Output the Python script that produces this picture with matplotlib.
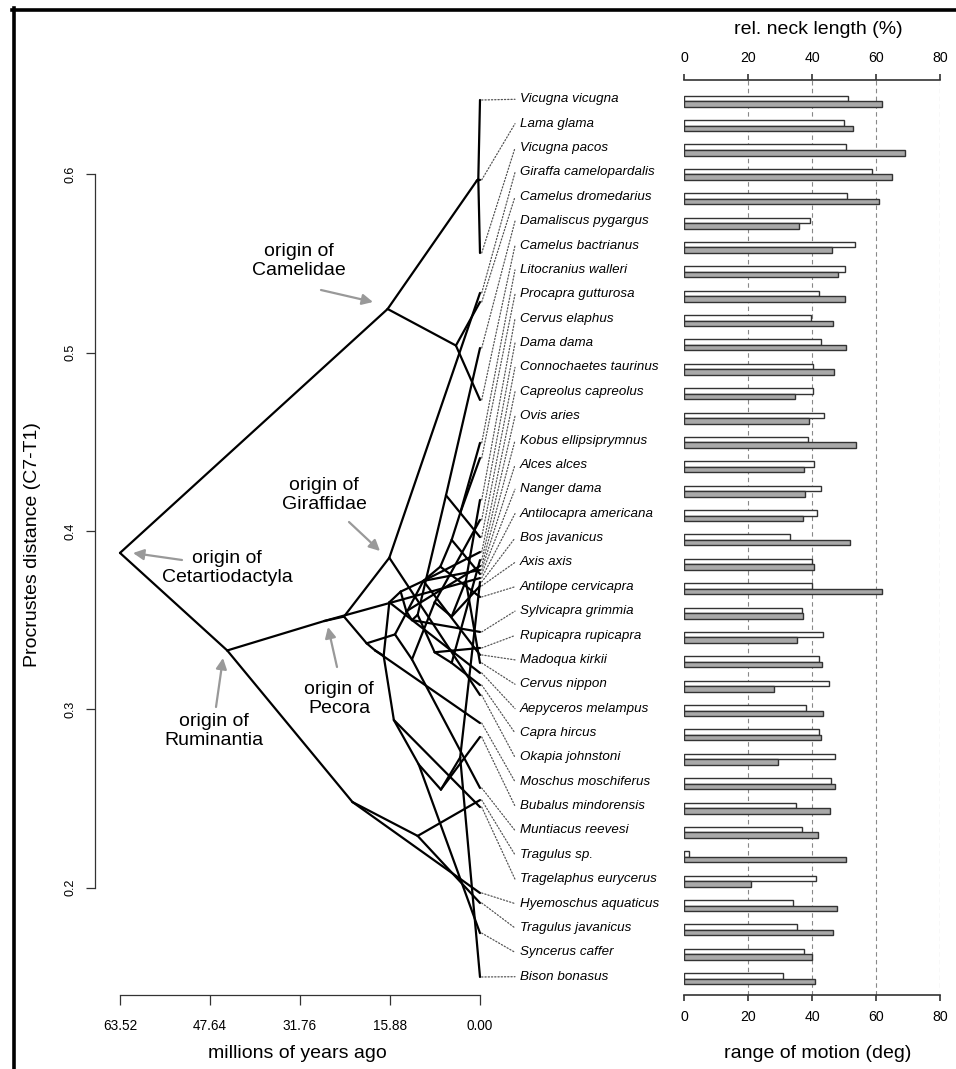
import matplotlib
matplotlib.use("Agg")
import matplotlib.pyplot as plt
import matplotlib.transforms as mtransforms
from matplotlib.patches import ConnectionPatch
from matplotlib.lines import Line2D
import numpy as np

plt.rcParams['font.family'] = ['Liberation Sans', 'DejaVu Sans']

# ---- species (top to bottom), tip values and bar values ----
species = ["Vicugna vicugna", "Lama glama", "Vicugna pacos", "Giraffa camelopardalis",
           "Camelus dromedarius", "Damaliscus pygargus", "Camelus bactrianus",
           "Litocranius walleri", "Procapra gutturosa", "Cervus elaphus", "Dama dama",
           "Connochaetes taurinus", "Capreolus capreolus", "Ovis aries",
           "Kobus ellipsiprymnus", "Alces alces", "Nanger dama", "Antilocapra americana",
           "Bos javanicus", "Axis axis", "Antilope cervicapra", "Sylvicapra grimmia",
           "Rupicapra rupicapra", "Madoqua kirkii", "Cervus nippon", "Aepyceros melampus",
           "Capra hircus", "Okapia johnstoni", "Moschus moschiferus", "Bubalus mindorensis",
           "Muntiacus reevesi", "Tragulus sp.", "Tragelaphus eurycerus",
           "Hyemoschus aquaticus", "Tragulus javanicus", "Syncerus caffer", "Bison bonasus"]

tip_value = [0.6417, 0.5969, 0.5559, 0.5335, 0.5284, 0.5026, 0.4735, 0.4494, 0.4409,
             0.4174, 0.4062, 0.3966, 0.3882, 0.3837, 0.3804, 0.3781, 0.3759, 0.3736,
             0.3714, 0.3692, 0.3630, 0.3434, 0.3344, 0.3305, 0.3260, 0.3204, 0.3136,
             0.3080, 0.2923, 0.2845, 0.2559, 0.2491, 0.2452, 0.1970, 0.1914, 0.1745,
             0.1499]

tip_parent = ["Vicugna", "Lama_Vicugna", "Vicugna", "Giraffidae", "Camelus", "Alcelaphini",
              "Camelus", "Gazella", "Gazella", "Cervus", "Cervinae2", "Alcelaphini",
              "Capreolinae", "Caprini", "Hippotragini", "Capreolinae", "Antilopini3",
              "Pecora", "Bos_Bison", "Cervinae3", "Antilopini2", "Cephalophini",
              "Caprinae", "Antilopini", "Cervus", "Antilopinae", "Caprini", "Giraffidae",
              "Bovidae_Moschus", "Bovini2", "Cervinae", "Tragulus", "Bovinae",
              "Tragulidae", "Tragulus", "Bovini", "Bos_Bison"]

neck_length = [51.4, 50.1, 50.5, 58.9, 50.8, 39.4, 53.5, 50.4, 42.2, 39.6, 42.8,
               40.2, 40.2, 43.8, 38.6, 40.7, 42.8, 41.7, 33.2, 40.1, 39.9, 37.0,
               43.4, 42.1, 45.2, 38.2, 42.3, 47.1, 45.8, 35.1, 37.0, 1.5, 41.1,
               34.0, 35.3, 37.4, 31.0]
range_of_motion = [61.8, 52.7, 69.0, 65.0, 60.8, 35.8, 46.3, 48.2, 50.3, 46.7, 50.6,
                   47.0, 34.7, 39.2, 53.6, 37.4, 37.7, 37.1, 51.9, 40.7, 61.9, 37.3,
                   35.3, 43.2, 28.0, 43.5, 42.7, 29.3, 47.1, 45.5, 41.8, 50.5, 20.8,
                   47.8, 46.5, 40.1, 40.9]

# ---- internal nodes of the phenogram: age (Ma), value, parent ----
node_name = ["root", "Camelidae", "Camelus", "Lama_Vicugna", "Vicugna", "Ruminantia",
             "Tragulidae", "Tragulus", "Pecora", "Pecora2", "Giraffidae", "Pecora3",
             "Cervidae", "Capreolinae", "Cervinae", "Cervinae2", "Cervinae3", "Cervus",
             "Bovidae_Moschus", "Bovidae", "Bovinae", "Bovini", "Bovini2", "Bos_Bison",
             "Antilopinae", "Antilopinae2", "Antilopini", "Antilopini2", "Antilopini3",
             "Gazella", "Hippotragini", "Cephalophini", "Caprinae_Alcel", "Alcelaphini",
             "Caprinae", "Caprini"]
node_age = [63.52, 16.3, 4.25, 0.55, 0.3, 44.6, 22.5, 11.0, 27.5, 24.0, 16.0, 20.0,
            15.0, 10.0, 12.0, 8.0, 5.0, 2.5, 18.5, 17.0, 15.2, 10.8, 6.9, 3.5,
            16.0, 14.0, 10.0, 7.0, 5.0, 3.5, 13.0, 12.0, 11.0, 6.0, 8.0, 5.0]
node_value = [0.3877, 0.5245, 0.504, 0.5965, 0.5972, 0.333, 0.248, 0.229, 0.3495,
              0.352, 0.385, 0.337, 0.342, 0.372, 0.328, 0.36, 0.352, 0.372, 0.333,
              0.33, 0.294, 0.269, 0.255, 0.273, 0.36, 0.366, 0.372, 0.38, 0.395,
              0.41, 0.355, 0.35, 0.353, 0.42, 0.332, 0.326]
node_parent = [None, "root", "Camelidae", "Camelidae", "Lama_Vicugna", "root",
               "Ruminantia", "Tragulidae", "Ruminantia", "Pecora", "Pecora2", "Pecora2",
               "Pecora3", "Cervidae", "Cervidae", "Cervinae", "Cervinae2", "Cervinae3",
               "Pecora3", "Bovidae_Moschus", "Bovidae", "Bovinae", "Bovini", "Bovini2",
               "Bovidae", "Antilopinae", "Antilopinae2", "Antilopini", "Antilopini2",
               "Antilopini3", "Antilopinae2", "Hippotragini", "Cephalophini",
               "Caprinae_Alcel", "Caprinae_Alcel", "Caprinae"]

time_ticks = [63.52, 47.64, 31.76, 15.88, 0.00]
dist_ticks = [0.2, 0.3, 0.4, 0.5, 0.6]
bar_ticks = [0, 20, 40, 60, 80]

W, H = 956, 1069
fig = plt.figure(figsize=(W / 100, H / 100), dpi=100)


def fx(x):
    return x / W


def fy(y):
    return 1 - y / H


# ---------------- phenogram ----------------
ax = fig.add_axes([fx(120), fy(985), 360 / W, 895 / H])
ax.set_xlim(63.52, 0)
ax.set_ylim(0.1454, 0.6473)

pos = {n: (a, v) for n, a, v in zip(node_name, node_age, node_value)}
for n, p in zip(node_name, node_parent):
    if p is None:
        continue
    ax.plot([pos[p][0], pos[n][0]], [pos[p][1], pos[n][1]], color='k', lw=1.6,
            solid_capstyle='round', clip_on=False)
for v, p in zip(tip_value, tip_parent):
    ax.plot([pos[p][0], 0], [pos[p][1], v], color='k', lw=1.6,
            solid_capstyle='round', clip_on=False)

for s in ['top', 'right']:
    ax.spines[s].set_visible(False)
ax.spines['left'].set_position(('outward', 18))
ax.spines['left'].set_bounds(0.2, 0.6)
ax.spines['bottom'].set_position(('outward', 7.2))
ax.spines['bottom'].set_bounds(0, 63.52)
for s in ['left', 'bottom']:
    ax.spines[s].set_color('#333333')
    ax.spines[s].set_linewidth(0.9)
ax.set_yticks(dist_ticks)
ax.set_yticklabels([str(t) for t in dist_ticks])
ax.set_xticks(time_ticks)
ax.set_xticklabels(["%.2f" % t for t in time_ticks])
ax.tick_params(axis='y', length=6.5, width=0.9, color='#333333', labelsize=9,
               pad=7, labelrotation=90)
for lab in ax.get_yticklabels():
    lab.set_va('center')
ax.tick_params(axis='x', length=7.2, width=0.9, color='#333333', labelsize=9.8, pad=10)
ax.patch.set_visible(False)

# ---------------- bars ----------------
axb = fig.add_axes([fx(684), fy(995), 256 / W, 915 / H])
rows = np.arange(len(species))
axb.set_xlim(0, 80)
axb.set_ylim(36.75, -0.792)
h = 0.226
off = 0.08
axb.barh(rows + off - h / 2, neck_length, height=h, color='white',
         edgecolor='#333333', lw=1.0, zorder=3)
axb.barh(rows + off + h / 2, range_of_motion, height=h, color='#a9a9a9',
         edgecolor='#333333', lw=1.0, zorder=3)
for t in bar_ticks[1:]:
    axb.axvline(t, color='#888888', lw=0.8, ls=(0, (4, 3)), zorder=1)
for s in ['left', 'right']:
    axb.spines[s].set_visible(False)
for s in ['top', 'bottom']:
    axb.spines[s].set_linewidth(1.2)
    axb.spines[s].set_color('#333333')
axb.set_yticks([])
axb.set_xticks(bar_ticks)
axb.tick_params(axis='x', top=True, labeltop=True, bottom=True, labelbottom=True,
                length=4.5, width=1.2, color='#333333', labelsize=10.2, pad=6)
axb.patch.set_visible(False)

# species names and dotted connectors
blend = mtransforms.blended_transform_factory(fig.transFigure, axb.transData)
for i, (name, v) in enumerate(zip(species, tip_value)):
    axb.text(fx(520), i, name, transform=blend, style='italic', fontsize=9.6,
             ha='left', va='center')
    con = ConnectionPatch(xyA=(-0.3, v), coordsA=ax.transData,
                          xyB=(fx(515), i), coordsB=blend,
                          color='#555555', lw=0.9, ls=(0, (1, 1.6)))
    fig.add_artist(con)

# ---------------- axis titles ----------------
fig.text(fx(33), fy(545), "Procrustes distance (C7-T1)", rotation=90, fontsize=14,
         ha='center', va='center')
fig.text(fx(297), fy(1053), "millions of years ago", fontsize=14, ha='center', va='center')
fig.text(fx(818), fy(30), "rel. neck length (%)", fontsize=14, ha='center', va='center')
fig.text(fx(818), fy(1053), "range of motion (deg)", fontsize=14, ha='center', va='center')

# ---------------- annotations ----------------
notes = [("origin of\nCamelidae", (299, 261), (321, 290), (373, 302)),
         ("origin of\nCetartiodactyla", (227, 568), (182, 560), (133, 553)),
         ("origin of\nGiraffidae", (324, 495), (349, 522), (380, 551)),
         ("origin of\nPecora", (339, 699), (337, 667), (328, 627)),
         ("origin of\nRuminantia", (214, 731), (216, 707), (223, 658))]
for text, tpos, a0, a1 in notes:
    fig.text(fx(tpos[0]), fy(tpos[1]), text, fontsize=14, ha='center', va='center',
             linespacing=1.15)
    ax.annotate("", xy=(a1[0], H - a1[1]), xycoords='figure pixels',
                xytext=(a0[0], H - a0[1]), textcoords='figure pixels',
                arrowprops=dict(arrowstyle='-|>', color='#999999', lw=1.6,
                                mutation_scale=16, shrinkA=0, shrinkB=0))

# frame
fig.add_artist(Line2D([fx(12), fx(W)], [fy(9.5), fy(9.5)], color='k', lw=2.6))
fig.add_artist(Line2D([fx(13.5), fx(13.5)], [fy(8), 0], color='k', lw=2.6))

fig.savefig("out.png", dpi=100)
